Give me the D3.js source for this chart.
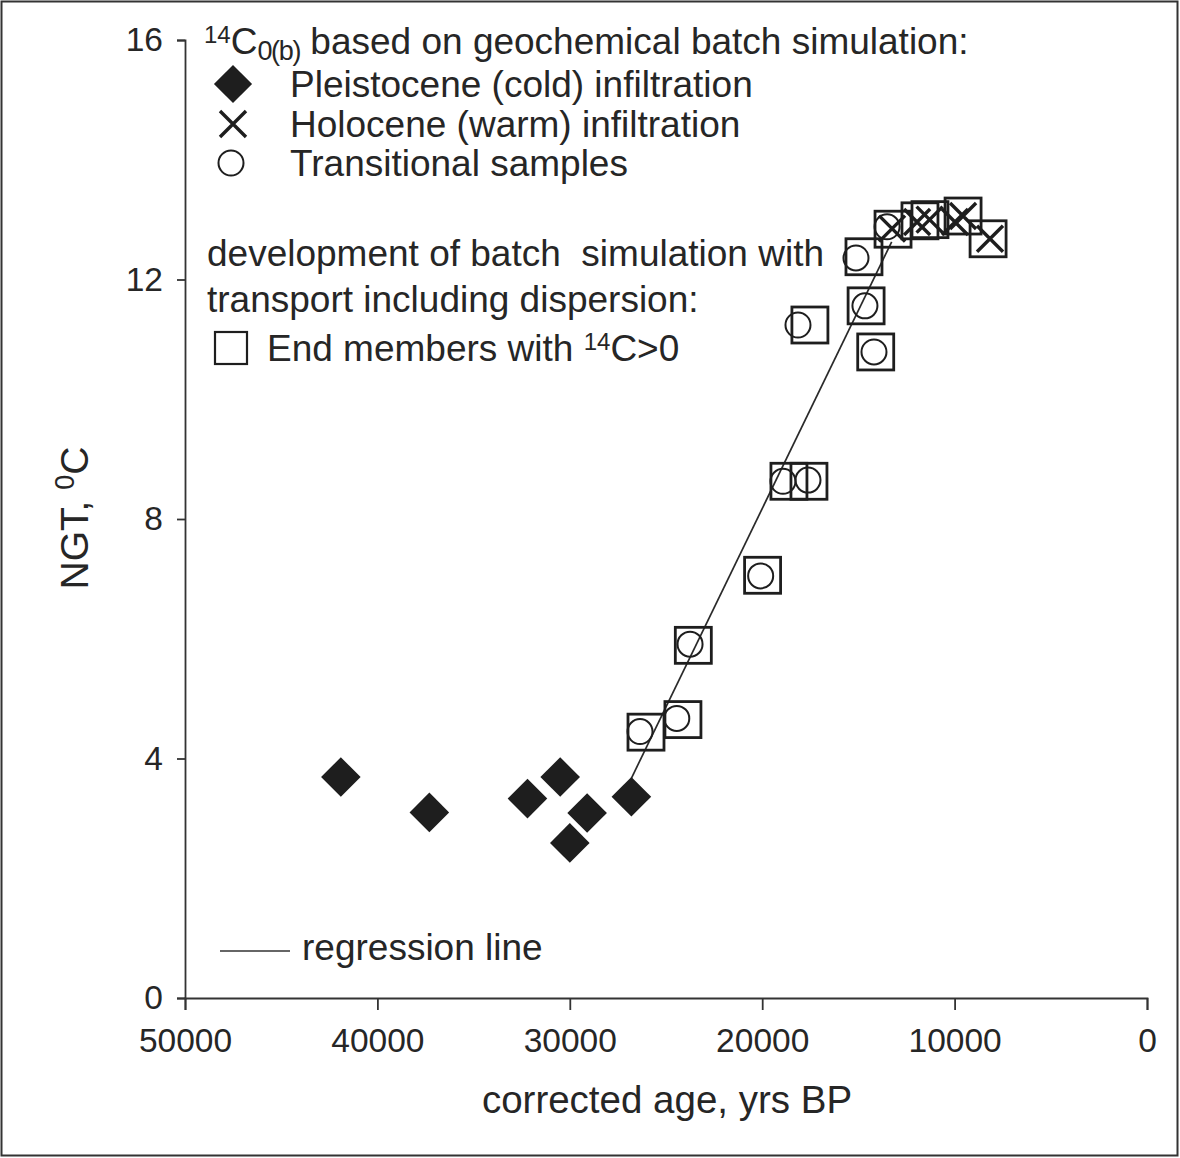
<!DOCTYPE html>
<html>
<head>
<meta charset="utf-8">
<script src="https://cdn.jsdelivr.net/npm/d3@7/dist/d3.min.js"></script>
<style>
  html, body { margin: 0; padding: 0; background: #fff; }
  svg text { font-family: "Liberation Sans", Arial, sans-serif; fill: #262626; }
</style>
</head>
<body>
<svg id="chart" width="1180" height="1158"></svg>
<script>
// Pleistocene (cold) infiltration samples: corrected age (yrs BP) and NGT (°C)
const pleistoceneAge = [41900, 37300, 32200, 30500, 29100, 30000, 26800];
const pleistoceneNGT = [3.69, 3.10, 3.33, 3.69, 3.09, 2.59, 3.36];

// Holocene (warm) infiltration samples
const holoceneAge = [13250, 11950, 11300, 9980, 9560, 8160];
const holoceneNGT = [12.85, 12.96, 13.00, 12.96, 13.06, 12.68];

// Transitional samples
const transitionalAge = [15125, 13510, 18140, 14660, 14190, 18920, 17620, 20080, 23750, 24440, 26350];
const transitionalNGT = [12.36, 12.88, 11.24, 11.56, 10.79, 8.63, 8.65, 7.05, 5.91, 4.67, 4.45];

// End members with 14C>0 (batch simulation with transport incl. dispersion)
const endMemberAge = [14710, 13200, 11800, 11280, 9560, 8260, 17520, 14600, 14100, 18610, 17570, 19980, 23580, 24120, 26040];
const endMemberNGT = [12.38, 12.84, 12.98, 13.00, 13.06, 12.68, 11.24, 11.56, 10.79, 8.63, 8.63, 7.06, 5.89, 4.65, 4.44];

// Regression line end points
const regressionAge = [26800, 13270];
const regressionNGT = [3.67, 12.63];

// Axis ticks
const xTicks = [50000, 40000, 30000, 20000, 10000, 0];
const yTicks = [0, 4, 8, 12, 16];

const zip = (a, b) => a.map((v, i) => ({ age: v, ngt: b[i] }));

const svg = d3.select("#chart");
const ink = "#1e1e1e";
const FS = 37;

// outer frame
svg.append("rect")
  .attr("x", 1.5).attr("y", 1.5)
  .attr("width", 1176).attr("height", 1154)
  .attr("fill", "none").attr("stroke", "#333").attr("stroke-width", 2);

const x = d3.scaleLinear().domain([50000, 0]).range([185, 1147]);
const y = d3.scaleLinear().domain([0, 16]).range([998, 40]);

// axes
const xAxis = svg.append("g").attr("transform", `translate(0,${y(0)})`)
  .call(d3.axisBottom(x).tickValues(xTicks).tickSize(12).tickPadding(18).tickFormat(d3.format("d")));
const yAxis = svg.append("g").attr("transform", `translate(${x(50000)},0)`)
  .call(d3.axisLeft(y).tickValues(yTicks).tickSize(8).tickPadding(14).tickFormat(d3.format("d")));

[xAxis, yAxis].forEach(g => {
  g.select(".domain").attr("stroke", "#333").attr("stroke-width", 1.8);
  g.selectAll(".tick line").attr("stroke", "#333").attr("stroke-width", 1.8);
  g.selectAll(".tick text").attr("font-size", 33.5).attr("fill", "#262626")
    .attr("font-family", "Liberation Sans, Arial, sans-serif");
});

// axis titles
svg.append("text")
  .attr("x", 667).attr("y", 1113)
  .attr("text-anchor", "middle").attr("font-size", 38.5)
  .text("corrected age, yrs BP");

const yt = svg.append("text")
  .attr("transform", "translate(88,518) rotate(-90)")
  .attr("text-anchor", "middle").attr("font-size", 39);
yt.append("tspan").text("NGT, ");
yt.append("tspan").attr("font-size", 27).attr("dy", -14).text("0");
yt.append("tspan").attr("dy", 14).text("C");

const plot = svg.append("g");

// regression line
plot.append("path")
  .datum(zip(regressionAge, regressionNGT))
  .attr("fill", "none").attr("stroke", "#2a2a2a").attr("stroke-width", 1.7)
  .attr("d", d3.line().x(d => x(d.age)).y(d => y(d.ngt)));

// end member squares
plot.selectAll("rect.end").data(zip(endMemberAge, endMemberNGT)).join("rect")
  .attr("class", "end")
  .attr("x", d => x(d.age) - 18).attr("y", d => y(d.ngt) - 18)
  .attr("width", 36).attr("height", 36)
  .attr("fill", "none").attr("stroke", ink).attr("stroke-width", 2.8);

// transitional circles
plot.selectAll("circle.tr").data(zip(transitionalAge, transitionalNGT)).join("circle")
  .attr("class", "tr")
  .attr("cx", d => x(d.age)).attr("cy", d => y(d.ngt)).attr("r", 12.5)
  .attr("fill", "none").attr("stroke", ink).attr("stroke-width", 2);

// Holocene crosses
const cross = plot.selectAll("g.ho").data(zip(holoceneAge, holoceneNGT)).join("g")
  .attr("class", "ho")
  .attr("transform", d => `translate(${x(d.age)},${y(d.ngt)})`);
cross.append("path")
  .attr("d", "M-13,-13L13,13M-13,13L13,-13")
  .attr("stroke", ink).attr("stroke-width", 3.4).attr("fill", "none");

// Pleistocene diamonds
plot.selectAll("rect.pl").data(zip(pleistoceneAge, pleistoceneNGT)).join("rect")
  .attr("class", "pl")
  .attr("x", -14).attr("y", -14).attr("width", 28).attr("height", 28)
  .attr("fill", ink)
  .attr("transform", d => `translate(${x(d.age)},${y(d.ngt)}) rotate(45)`);

// legend
const lg = svg.append("g");
const head = lg.append("text").attr("x", 204).attr("y", 54).attr("font-size", FS);
head.append("tspan").attr("font-size", 24).attr("dy", -11).text("14");
head.append("tspan").attr("dy", 11).text("C");
head.append("tspan").attr("font-size", 27).attr("dy", 6).attr("textLength", 44).text("0(b)");
head.append("tspan").attr("dy", -6).text(" based on geochemical batch simulation:");

lg.append("rect").attr("x", -13.5).attr("y", -13.5).attr("width", 27).attr("height", 27)
  .attr("fill", ink).attr("transform", "translate(233,84) rotate(45)");
lg.append("path").attr("d", "M220,111L246,137M220,137L246,111")
  .attr("stroke", ink).attr("stroke-width", 3.4);
lg.append("circle").attr("cx", 231).attr("cy", 163).attr("r", 12.5)
  .attr("fill", "none").attr("stroke", ink).attr("stroke-width", 2);

const rows = [
  ["Pleistocene (cold) infiltration", 290, 97],
  ["Holocene (warm) infiltration", 290, 137],
  ["Transitional samples", 290, 176],
  ["development of batch  simulation with", 207, 266],
  ["transport including dispersion:", 207, 312]
];
rows.forEach(([t, tx, ty]) => lg.append("text").attr("x", tx).attr("y", ty)
  .attr("font-size", FS).style("white-space", "pre").text(t));

lg.append("rect").attr("x", 215).attr("y", 332).attr("width", 32).attr("height", 32)
  .attr("fill", "none").attr("stroke", ink).attr("stroke-width", 2.2);
const em = lg.append("text").attr("x", 267).attr("y", 361).attr("font-size", FS);
em.append("tspan").text("End members with ");
em.append("tspan").attr("font-size", 24).attr("dy", -11).text("14");
em.append("tspan").attr("dy", 11).text("C>0");

lg.append("line").attr("x1", 220).attr("x2", 290).attr("y1", 951).attr("y2", 951)
  .attr("stroke", "#333").attr("stroke-width", 1.6);
lg.append("text").attr("x", 302).attr("y", 960).attr("font-size", FS).text("regression line");
</script>
</body>
</html>
